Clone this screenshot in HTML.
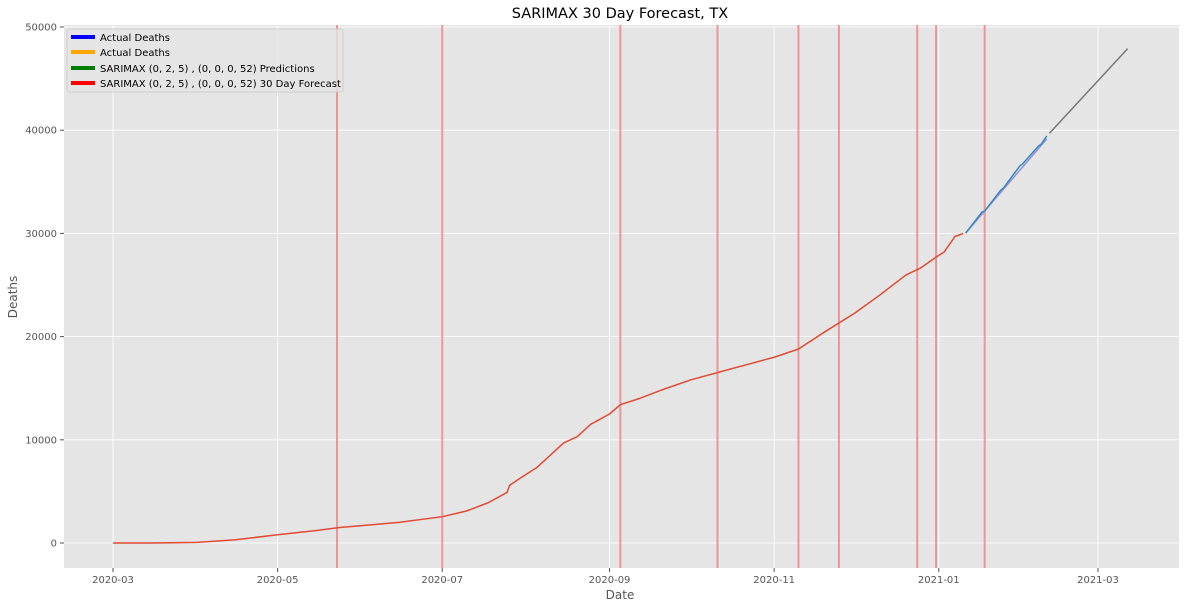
<!DOCTYPE html>
<html><head><meta charset="utf-8"><style>
body{margin:0;background:#fff;font-family:"Liberation Sans","DejaVu Sans",sans-serif}
svg text{font-family:"DejaVu Sans","Liberation Sans",sans-serif}
</style></head><body>
<svg id="c" width="1185" height="609">
<text x="620" y="18" text-anchor="middle" font-size="14.5" fill="#000">SARIMAX 30 Day Forecast, TX</text>
<rect x="64" y="25" width="1115" height="543" fill="#e5e5e5"/>
<g id="grid"></g><g id="marks"></g><g id="axes"></g>
<text x="620" y="599" text-anchor="middle" font-size="12" fill="#555">Date</text>
<text x="17" y="297" text-anchor="middle" font-size="12" fill="#555" transform="rotate(-90 17 297)">Deaths</text>
<g>
<rect x="67" y="29" width="276" height="63" fill="#e5e5e5" stroke="#ccc" opacity="0.8" rx="2"/>
<g><rect x="71" y="35" width="24" height="4" fill="#0000ff"/><text x="100" y="41" font-size="10">Actual Deaths</text></g>
<g><rect x="71" y="50" width="24" height="4" fill="#ffa500"/><text x="100" y="56" font-size="10">Actual Deaths</text></g>
<g><rect x="71" y="66" width="24" height="4" fill="#008000"/><text x="100" y="72" font-size="10">SARIMAX (0, 2, 5) , (0, 0, 0, 52) Predictions</text></g>
<g><rect x="71" y="81" width="24" height="4" fill="#ff0000"/><text x="100" y="87" font-size="10">SARIMAX (0, 2, 5) , (0, 0, 0, 52) 30 Day Forecast</text></g>
</g>
</svg>
<script>
const xTicks=["2020-03","2020-05","2020-07","2020-09","2020-11","2021-01","2021-03"];
const yTicks=[0,10000,20000,30000,40000,50000];
const vlines=["2020-05-23","2020-07-01","2020-09-05","2020-10-11","2020-11-10","2020-11-25","2020-12-24","2020-12-31","2021-01-18"];
const histDates=["2020-03-01","2020-03-15","2020-04-01","2020-04-15","2020-05-01","2020-05-15","2020-05-24","2020-06-15","2020-07-01","2020-07-10","2020-07-18","2020-07-25","2020-07-26","2020-07-30","2020-08-05","2020-08-10","2020-08-15","2020-08-20","2020-08-25","2020-09-01","2020-09-05","2020-09-12","2020-09-20","2020-10-01","2020-10-15","2020-11-01","2020-11-10","2020-11-20","2020-12-01","2020-12-10","2020-12-20","2020-12-25","2020-12-31","2021-01-03","2021-01-07","2021-01-10"];
const histVals=[0,0,60,300,800,1200,1500,2000,2550,3100,3900,4900,5600,6300,7300,8500,9700,10300,11500,12500,13400,14000,14800,15800,16800,18000,18800,20500,22300,24000,26000,26600,27700,28200,29700,30000];
const actDates=["2021-01-11","2021-01-17","2021-01-18","2021-01-24","2021-01-25","2021-01-31","2021-02-01","2021-02-07","2021-02-08","2021-02-10"];
const actVals=[30040,32070,32170,34200,34400,36530,36720,38470,38660,39440];
const predDates=["2021-01-11","2021-02-10"];
const predVals=[30040,39150];
const fcDates=["2021-02-11","2021-03-12"];
const fcVals=[39700,47900];
const NS="http://www.w3.org/2000/svg";
const t0=Date.UTC(2020,2,1);
function day(s){const p=s.split("-").map(Number);return (Date.UTC(p[0],p[1]-1,p[2]||1)-t0)/864e5;}
function X(s){return 113+day(s)*(985/365);}
function Y(v){return 543-v*(516/50000);}
function el(tag,a,parent){const e=document.createElementNS(NS,tag);for(const k in a)e.setAttribute(k,a[k]);document.getElementById(parent).appendChild(e);return e;}
xTicks.forEach(t=>{const x=X(t);
 const g=el("line",{x1:x,x2:x,y1:25,y2:568,stroke:"#fff","stroke-width":0.8},"grid");
 
 
 el("line",{x1:x,x2:x,y1:568,y2:572,stroke:"#555"},"axes");
 const tx=el("text",{x:x,y:583,"text-anchor":"middle","font-size":10,fill:"#555"},"axes");tx.textContent=t;
 
 
});
yTicks.forEach(v=>{const y=Y(v);
 const g=el("line",{x1:64,x2:1179,y1:y,y2:y,stroke:"#fff","stroke-width":0.8},"grid");
 
 
 el("line",{x1:60,x2:64,y1:y,y2:y,stroke:"#555"},"axes");
 const tx=el("text",{x:57,y:y+3.5,"text-anchor":"end","font-size":10,fill:"#555"},"axes");tx.textContent=v;
 
 
});
vlines.forEach(d=>{const x=X(d);
 const l=el("line",{x1:x,x2:x,y1:25,y2:568,stroke:"#f08080","stroke-width":2,opacity:0.8},"marks");
 
 
});
function series(ds,vs,color,name,w){
 const p=el("polyline",{points:ds.map((d,i)=>X(d)+","+Y(vs[i])).join(" "),fill:"none",stroke:color,"stroke-width":w||1.5,"stroke-linejoin":"round"},"marks");
 
 
}
series(histDates,histVals,"#e24a33","historical-deaths-line");
series(predDates,predVals,"#988ed5","predictions-line");
series(actDates,actVals,"#348abd","actual-deaths-line");
series(fcDates,fcVals,"#777777","forecast-line");
</script>
</body></html>
